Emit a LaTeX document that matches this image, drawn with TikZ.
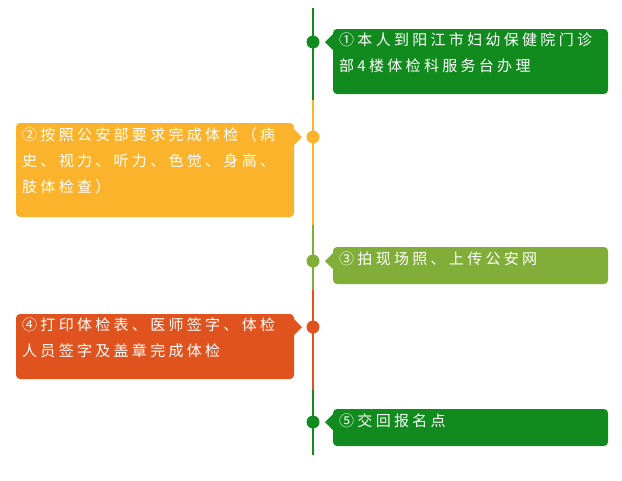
\documentclass[tikz,border=0pt]{standalone}
\usepackage{fontspec}
\setmainfont{Noto Sans CJK SC}[LetterSpace=22]
\definecolor{cA}{HTML}{118B1E}
\definecolor{cB}{HTML}{FBB32C}
\definecolor{cC}{HTML}{80AE38}
\definecolor{cD}{HTML}{E0531E}
\tikzset{
 box/.style={fill=#1, rounded corners=4pt, text=white, anchor=north west, align=left,
   font=\fontsize{15}{26}\selectfont, inner xsep=6pt, inner ysep=0pt},
 dot/.style={circle, fill=#1, inner sep=0pt, minimum size=13pt},
 seg/.style={draw=#1, line width=2pt}
}
\begin{document}
\begin{tikzpicture}[x=1pt,y=-1pt]
\useasboundingbox (0,0) rectangle (622,480);
\coordinate (t0) at (313,8); \coordinate (t1) at (313,100);
\coordinate (t2) at (313,225); \coordinate (t3) at (313,290);
\coordinate (t4) at (313,390); \coordinate (t5) at (313,455);
\draw[seg=cA] (t0)--(t1); \draw[seg=cB] (t1)--(t2); \draw[seg=cC] (t2)--(t3);
\draw[seg=cD] (t3)--(t4); \draw[seg=cA] (t4)--(t5);
% boxes
\fill[cA,rounded corners=4pt] (333,29) rectangle (608,94);
\fill[cA] (333,34)--(325,42)--(333,50)--cycle;
\node[box=cA,fill=none] (b1) at (333,33) {①本人到阳江市妇幼保健院门诊\\部4楼体检科服务台办理};
\fill[cB,rounded corners=4pt] (16,123) rectangle (294,217);
\fill[cB] (294,129)--(302,137)--(294,145)--cycle;
\node[box=cB,fill=none] (b2) at (16,127) {②按照公安部要求完成体检（病\\史、视力、听力、色觉、身高、\\肢体检查）};
\fill[cC,rounded corners=4pt] (333,247) rectangle (608,284);
\fill[cC] (333,253)--(325,261)--(333,269)--cycle;
\node[box=cC,fill=none] (b3) at (333,252) {③拍现场照、上传公安网};
\fill[cD,rounded corners=4pt] (16,314) rectangle (294,379);
\fill[cD] (294,319)--(302,327)--(294,335)--cycle;
\node[box=cD,fill=none] (b4) at (16,318) {④打印体检表、医师签字、体检\\人员签字及盖章完成体检};
\fill[cA,rounded corners=4pt] (333,409) rectangle (608,446);
\fill[cA] (333,414)--(325,422)--(333,430)--cycle;
\node[box=cA,fill=none] (b5) at (333,414) {⑤交回报名点};
\node[dot=cA] (d1) at (313,42) {};
\node[dot=cB] (d2) at (313,137) {};
\node[dot=cC] (d3) at (313,261) {};
\node[dot=cD] (d4) at (313,327) {};
\node[dot=cA] (d5) at (313,422) {};
\end{tikzpicture}
\end{document}
